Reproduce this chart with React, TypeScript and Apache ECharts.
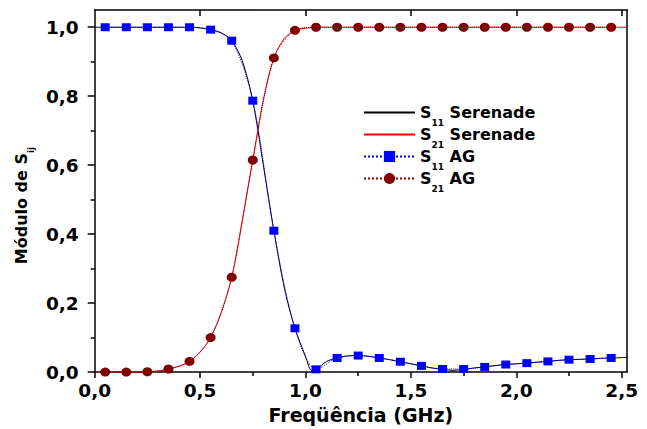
import React, { useEffect, useRef } from "react";
import * as echarts from "echarts";

// AG (measured) points
const xAG = [0.05, 0.15, 0.25, 0.35, 0.45, 0.55, 0.65, 0.75, 0.85, 0.95, 1.05, 1.15, 1.25, 1.35, 1.45, 1.55, 1.65, 1.75, 1.85, 1.95, 2.05, 2.15, 2.25, 2.35, 2.45];
const s11AG = [1.0, 1.0, 1.0, 1.0, 1.0, 0.993, 0.961, 0.787, 0.41, 0.127, 0.008, 0.041, 0.048, 0.041, 0.03, 0.018, 0.009, 0.009, 0.015, 0.022, 0.026, 0.031, 0.036, 0.038, 0.041];
const s21AG = [0.0, 0.0, 0.001, 0.009, 0.031, 0.1, 0.275, 0.615, 0.911, 0.991, 1.0, 1.0, 1.0, 1.0, 1.0, 1.0, 1.0, 1.0, 1.0, 1.0, 1.0, 1.0, 1.0, 1.0, 1.0];

// Serenade (simulated) curves
const xSer = [0, 0.05, 0.1, 0.15, 0.2, 0.25, 0.3, 0.35, 0.4, 0.45, 0.5, 0.55, 0.6, 0.65, 0.7, 0.75, 0.8, 0.85, 0.9, 0.95, 1.0, 1.03, 1.05, 1.1, 1.15, 1.2, 1.25, 1.3, 1.35, 1.4, 1.45, 1.5, 1.55, 1.6, 1.65, 1.7, 1.75, 1.8, 1.85, 1.9, 1.95, 2.0, 2.05, 2.1, 2.15, 2.2, 2.25, 2.3, 2.35, 2.4, 2.45, 2.5, 2.525];
const s11Ser = [1.0, 1.0, 1.0, 1.0, 1.0, 1.0, 1.0, 1.0, 1.0, 1.0, 0.998, 0.993, 0.984, 0.961, 0.903, 0.787, 0.6, 0.41, 0.243, 0.127, 0.046, 0.004, 0.006, 0.031, 0.041, 0.047, 0.048, 0.046, 0.041, 0.036, 0.03, 0.024, 0.018, 0.012, 0.008, 0.005, 0.008, 0.012, 0.015, 0.019, 0.022, 0.024, 0.026, 0.029, 0.031, 0.034, 0.036, 0.037, 0.038, 0.04, 0.041, 0.042, 0.043];
const s21Ser = [0, 0, 0, 0, 0.0005, 0.001, 0.003, 0.009, 0.017, 0.031, 0.058, 0.1, 0.172, 0.275, 0.44, 0.615, 0.79, 0.911, 0.968, 0.991, 0.997, 0.999, 1.0, 1.0, 1.0, 1.0, 1.0, 1.0, 1.0, 1.0, 1.0, 1.0, 1.0, 1.0, 1.0, 1.0, 1.0, 1.0, 1.0, 1.0, 1.0, 1.0, 1.0, 1.0, 1.0, 1.0, 1.0, 1.0, 1.0, 1.0, 1.0, 1.0, 1.0];

// axis ticks
const xMajor = [0, 0.5, 1.0, 1.5, 2.0, 2.5];
const xMinor = [0.25, 0.75, 1.25, 1.75, 2.25];
const yMajor = [0, 0.2, 0.4, 0.6, 0.8, 1.0];
const yMinor = [0.1, 0.3, 0.5, 0.7, 0.9];
const xMax = 2.525;
const yMax = 1.05;

const seriesNames = ["S11 Serenade", "S21 Serenade", "S11 AG", "S21 AG"];

const FONT = "DejaVu Sans";

export default function App() {
  const ref = useRef<HTMLDivElement>(null);
  useEffect(() => {
    const chart = echarts.init(ref.current!, null, { renderer: "svg" });
    const fmt = (v: number) => v.toFixed(1).replace(".", ",");
    const zip = (xs: number[], ys: number[]) => xs.map((x, i) => [x, ys[i]]);
    const axisLineStyle = { color: "#000", width: 1.5 };
    const hiddenLabel = { show: false };
    const noSplit = { show: false };
    const noSymbol = { color: "rgba(0,0,0,0)", borderColor: "rgba(0,0,0,0)", borderWidth: 0 };
    chart.setOption({
      animation: false,
      backgroundColor: "#fff",
      grid: { left: 90, right: 20, top: 10, bottom: 52 },
      legend: {
        orient: "vertical",
        left: 363,
        top: 98,
        padding: 0,
        itemGap: -7,
        itemWidth: 51,
        itemHeight: 14,
        data: [
          { name: seriesNames[0], itemStyle: noSymbol },
          { name: seriesNames[1], itemStyle: noSymbol },
          { name: seriesNames[2] },
          { name: seriesNames[3] },
        ],
        formatter: (name: string) => name.replace(/^S(\d\d)/, "S{sub|$1}"),
        textStyle: {
          fontFamily: FONT,
          fontWeight: "bold",
          fontSize: 16,
          color: "#000",
          lineHeight: 16,
          rich: {
            sub: { fontFamily: FONT, fontWeight: "bold", fontSize: 9, lineHeight: 9, color: "#000", padding: [20, 0, 0, 0] },
          },
        },
      },
      xAxis: [
        {
          type: "value",
          min: 0,
          max: xMax,
          position: "bottom",
          axisLine: { show: true, onZero: false, lineStyle: axisLineStyle },
          axisTick: { show: true, inside: false, length: 6, customValues: xMajor, lineStyle: axisLineStyle },
          axisLabel: { customValues: xMajor, formatter: fmt, color: "#000", fontFamily: FONT, fontWeight: "bold", fontSize: 18.5, margin: 9 },
          splitLine: noSplit,
          name: "Freqüência (GHz)",
          nameLocation: "middle",
          nameGap: 30,
          nameTextStyle: { fontFamily: FONT, fontWeight: "bold", fontSize: 19, color: "#000" },
        },
        {
          type: "value",
          min: 0,
          max: xMax,
          position: "top",
          axisLine: { show: true, onZero: false, lineStyle: axisLineStyle },
          axisTick: { show: true, inside: true, length: 6, customValues: xMajor.slice(1), lineStyle: axisLineStyle },
          axisLabel: hiddenLabel,
          splitLine: noSplit,
        },
        {
          type: "value",
          min: 0,
          max: xMax,
          position: "bottom",
          axisLine: { show: false, onZero: false },
          axisTick: { show: true, inside: false, length: 4, customValues: xMinor, lineStyle: axisLineStyle },
          axisLabel: hiddenLabel,
          splitLine: noSplit,
        },
      ],
      yAxis: [
        {
          type: "value",
          min: 0,
          max: yMax,
          position: "left",
          axisLine: { show: true, onZero: false, lineStyle: axisLineStyle },
          axisTick: { show: true, inside: false, length: 7, customValues: yMajor, lineStyle: axisLineStyle },
          axisLabel: { customValues: yMajor, formatter: fmt, color: "#000", fontFamily: FONT, fontWeight: "bold", fontSize: 18.5, margin: 16 },
          splitLine: noSplit,
          name: "Módulo de S{sub|ij}",
          nameLocation: "middle",
          nameGap: 56,
          nameTextStyle: {
            fontFamily: FONT,
            fontWeight: "bold",
            fontSize: 16,
            color: "#000",
            lineHeight: 16,
            padding: [0, 29, 0, 0],
            rich: {
              sub: { fontFamily: FONT, fontWeight: "bold", fontSize: 9, lineHeight: 9, color: "#000", padding: [18, 0, 0, 0] },
            },
          },
        },
        {
          type: "value",
          min: 0,
          max: yMax,
          position: "right",
          axisLine: { show: true, onZero: false, lineStyle: axisLineStyle },
          axisTick: { show: false },
          axisLabel: hiddenLabel,
          splitLine: noSplit,
        },
        {
          type: "value",
          min: 0,
          max: yMax,
          position: "left",
          axisLine: { show: false, onZero: false },
          axisTick: { show: true, inside: false, length: 4, customValues: yMinor, lineStyle: axisLineStyle },
          axisLabel: hiddenLabel,
          splitLine: noSplit,
        },
      ],
      series: [
        {
          name: seriesNames[0],
          type: "line",
          data: zip(xSer, s11Ser),
          smooth: 0.3,
          symbol: "none",
          lineStyle: { color: "#000", width: 1 },
          itemStyle: { color: "#000" },
          z: 2,
        },
        {
          name: seriesNames[1],
          type: "line",
          data: zip(xSer, s21Ser),
          smooth: 0.3,
          symbol: "none",
          lineStyle: { color: "#ff0000", width: 1 },
          itemStyle: { color: "#ff0000" },
          z: 2,
        },
        {
          name: seriesNames[2],
          type: "line",
          data: zip(xAG, s11AG),
          smooth: 0.3,
          symbol: "rect",
          symbolSize: [9, 8],
          showAllSymbol: true,
          lineStyle: { color: "#0000ff", width: 1, type: "dotted" },
          itemStyle: { color: "#0000ff" },
          z: 3,
        },
        {
          name: seriesNames[3],
          type: "line",
          data: zip(xAG, s21AG),
          smooth: 0.3,
          symbol: "circle",
          symbolSize: [10, 9],
          showAllSymbol: true,
          lineStyle: { color: "#800000", width: 1, type: "dotted" },
          itemStyle: { color: "#800000" },
          z: 3,
        },
      ],
    });
    return () => chart.dispose();
  }, []);
  return <div ref={ref} style={{ position: "fixed", left: 0, top: 0, width: 647, height: 429 }} />;
}
